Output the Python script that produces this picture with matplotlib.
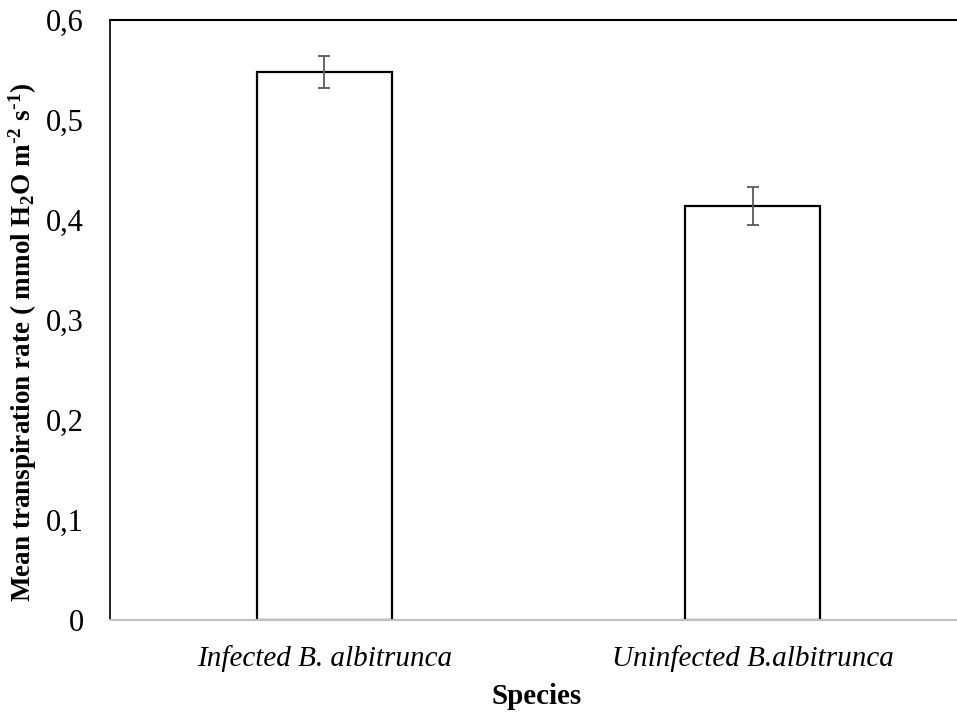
import matplotlib
matplotlib.use("Agg")
import matplotlib.pyplot as plt

plt.rcParams['font.family'] = ['Liberation Serif', 'DejaVu Serif']
plt.rcParams['mathtext.default'] = 'regular'

categories = ["Infected B. albitrunca", "Uninfected B.albitrunca"]
means = [0.548, 0.414]
errors = [0.016, 0.019]
yticks = [0, 0.1, 0.2, 0.3, 0.4, 0.5, 0.6]
ytick_labels = ["0", "0,1", "0,2", "0,3", "0,4", "0,5", "0,6"]

fig = plt.figure(figsize=(9.57, 7.13), dpi=100)
# axes runs slightly past the right edge like the original crop
ax = fig.add_axes([110 / 957, 93 / 713, 856.75 / 957, 600 / 713])

x = range(len(categories))
ax.bar(x, means, width=0.315, color='white', edgecolor='black', linewidth=1.6, zorder=2)
ax.errorbar(x, means, yerr=errors, fmt='none', ecolor='#595959', elinewidth=1.3,
            capsize=4.5, capthick=1.3, zorder=3)

ax.set_xlim(-0.5, 1.5)
ax.set_ylim(0, 0.6)
ax.set_yticks(yticks)
ax.set_yticklabels(ytick_labels, fontsize=22)
ax.set_xticks(list(x))
ax.set_xticklabels(categories, fontsize=21, style='italic')
ax.tick_params(axis='y', length=0, pad=19)
ax.tick_params(axis='x', length=0, pad=18)

ax.spines['right'].set_visible(False)
ax.spines['top'].set_color('black')
ax.spines['top'].set_linewidth(1.5)
ax.spines['left'].set_color('black')
ax.spines['left'].set_linewidth(1.2)
ax.spines['bottom'].set_color('#bfbfbf')
ax.spines['bottom'].set_linewidth(1.5)

ax.set_xlabel("Species", fontsize=21, fontweight='bold')
ax.set_ylabel(r"Mean transpiration rate ( mmol H$_2$O m$^{\text{-}2}$ s$^{\text{-}1}$)",
              fontsize=19.5, fontweight='bold')
ax.xaxis.set_label_coords(0.498, -0.105)
ax.yaxis.set_label_coords(-0.083, 0.463)

fig.savefig("out.png", dpi=100)
